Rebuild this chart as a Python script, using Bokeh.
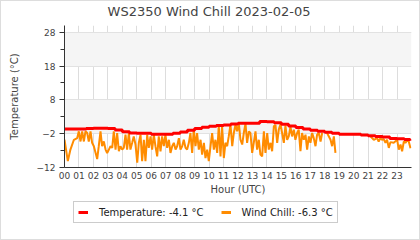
import math
from bokeh.plotting import figure
from bokeh.layouts import column
from bokeh.models import Range1d, FixedTicker, Legend, LegendItem, Label
from bokeh.embed import file_html
from bokeh.resources import INLINE

TITLE = "WS2350 Wind Chill 2023-02-05"
hour_ticks = list(range(24))
hour_labels = ["00", "01", "02", "03", "04", "05", "06", "07", "08", "09", "10", "11",
               "12", "13", "14", "15", "16", "17", "18", "19", "20", "21", "22", "23"]
y_ticks = [-12, -2, 8, 18, 28]
y_minor = [-7, 3, 13, 23]

temp_hour = [0.0, 0.5, 1.0, 1.5, 2.0, 2.5, 3.0, 3.5, 4.0, 4.5, 5.0, 5.5, 6.0, 6.5, 7.0, 7.5,
             8.0, 8.5, 9.0, 9.5, 10.0, 10.5, 11.0, 11.5, 12.0, 12.5, 13.0, 13.5, 14.0, 14.5,
             15.0, 15.5, 16.0, 16.5, 17.0, 17.5, 18.0, 18.5, 19.0, 19.5, 20.0, 20.5, 21.0,
             21.5, 22.0, 22.5, 23.0, 23.5, 23.9]
temp_val = [-0.6, -0.6, -0.6, -0.5, -0.4, -0.4, -0.5, -0.9, -1.4, -1.8, -1.9, -1.9, -2.2,
            -2.2, -2.2, -1.9, -1.5, -1.0, -0.5, -0.1, 0.2, 0.4, 0.6, 0.9, 1.1, 1.1, 1.1, 1.6,
            1.5, 1.2, 0.8, 0.3, -0.2, -0.6, -1.0, -1.3, -1.6, -1.9, -2.2, -2.2, -2.2, -2.4,
            -2.6, -2.8, -3.0, -3.4, -3.5, -3.7, -4.1]

wc_hour = [0.00, 0.23, 0.41, 0.65, 0.88, 0.99, 1.11, 1.22, 1.34, 1.45, 1.57, 1.68, 1.80, 1.91,
           2.03, 2.26, 2.37, 2.49, 2.60, 2.72, 2.84, 2.95, 3.07, 3.18, 3.30, 3.41, 3.53, 3.64,
           3.76, 3.87, 3.99, 4.10, 4.22, 4.33, 4.45, 4.56, 4.68, 4.79, 4.91, 5.03, 5.14, 5.26,
           5.37, 5.49, 5.60, 5.72, 5.83, 5.95, 6.06, 6.18, 6.29, 6.41, 6.52, 6.64, 6.75, 6.87,
           6.98, 7.10, 7.22, 7.33, 7.45, 7.56, 7.68, 7.79, 7.91, 8.02, 8.14, 8.25, 8.37, 8.48,
           8.60, 8.71, 8.83, 8.94, 9.06, 9.17, 9.29, 9.41, 9.52, 9.64, 9.75, 9.87, 9.98, 10.10,
           10.21, 10.33, 10.44, 10.56, 10.67, 10.79, 10.90, 11.02, 11.13, 11.25, 11.36, 11.48,
           11.60, 11.71, 11.83, 11.94, 12.06, 12.17, 12.29, 12.40, 12.52, 12.63, 12.75, 12.86,
           12.98, 13.09, 13.21, 13.32, 13.44, 13.55, 13.67, 13.79, 13.90, 14.02, 14.13, 14.25,
           14.36, 14.48, 14.59, 14.71, 14.82, 14.94, 15.05, 15.17, 15.28, 15.40, 15.51, 15.63,
           15.74, 15.86, 15.97, 16.09, 16.20, 16.32, 16.43, 16.55, 16.67, 16.78, 16.90, 17.01,
           17.13, 17.24, 17.36, 17.47, 17.59, 17.71, 17.82, 17.95, 18.16, 18.40, 18.51, 18.63,
           18.74, 18.90, 21.16, 21.39, 21.62, 21.73, 21.85, 21.96, 22.08, 22.20, 22.31, 22.43,
           22.54, 22.77, 23.01, 23.12, 23.24, 23.35, 23.47, 23.58, 23.70, 23.81, 23.93]
wc_val = [-3.8, -10.1, -6.7, -3.8, -3.3, -1.3, -4.3, -1.3, -4.3, -1.3, -1.8, -4.3, -1.3, -4.7,
          -5.7, -9.5, -5.7, -1.3, -5.7, -4.3, -6.7, -7.7, -6.7, -5.7, -6.2, -1.3, -6.7, -1.8,
          -7.2, -5.7, -6.7, -6.2, -2.3, -6.7, -1.8, -6.7, -4.7, -2.8, -5.2, -10.6, -4.7, -2.3,
          -10.1, -3.8, -10.1, -2.3, -6.2, -2.8, -6.7, -2.3, -5.7, -8.7, -2.8, -7.2, -2.8, -5.7,
          -2.3, -6.2, -3.8, -7.7, -5.7, -4.7, -6.7, -5.7, -3.3, -6.7, -5.7, -3.8, -6.2, -6.7,
          -4.7, -1.8, -7.7, -0.7, -5.7, -1.8, -6.7, -3.8, -8.2, -4.7, -9.2, -6.7, -10.1, -5.7,
          -1.8, -6.7, -3.8, -7.7, 0.3, -8.7, 0.2, -9.2, -4.7, -5.7, -2.8, 0.7,
          -5.7, -1.8, 0.7, -1.3, 1.0, -3.8, -5.2, -1.8, 1.0, -4.7, -1.3, -1.8,
          -7.7, -4.7, -1.3, -6.7, -3.8, -8.2, -8.7, -1.3, -7.7, -1.8, -6.7, -4.7,
          -7.2, 0.2, 0.6, -4.7, -0.8, 0.8, -1.8, -4.7, 0.4, -3.8, -2.8, 0.1,
          -2.8, -0.8, -3.8, -1.8, -0.8, -7.2, -1.8, -3.8, -2.3, -6.7, -2.8, -4.7,
          -1.8, -3.3, -5.7, -2.3, -1.8, -4.3, -1.8, None, -1.8, -3.8, -5.7, -2.8,
          -7.7, None, -2.8, -3.8, -3.3, -4.3, -3.3, -3.8, -3.6, -4.7, -3.8, -6.2,
          -4.5, -4.7, -3.8, -6.7, -5.2, -7.2, -4.3, -4.7, -4.0, -4.3, -6.3]

wc_y = [math.nan if v is None else v for v in wc_val]
legend_labels = ["Temperature: -4.1 °C", "Wind Chill: -6.3 °C"]

TXT = "#444444"
FONT = "DejaVu Sans"
RED = "#ff0000"
ORANGE = "#ff8c00"


def strip(height, y_range):
    f = figure(width=418, height=height, x_range=Range1d(0, 24), y_range=y_range,
               output_backend="svg", toolbar_location=None, x_axis_type=None,
               y_axis_type=None, min_border=0, min_border_left=0, min_border_right=0,
               min_border_top=0, min_border_bottom=0)
    f.outline_line_color = None
    f.grid.visible = False
    f.background_fill_color = "white"
    f.border_fill_color = "white"
    return f


# title strip (canvas-centred title)
t = strip(24, Range1d(0, 24))
t.add_layout(Label(x=10.0, y=14.0, text=TITLE, text_align="center", text_baseline="middle",
                   text_font=FONT, text_font_size="13px", text_color=TXT))

p = figure(width=418, height=172, x_range=Range1d(0, 24), y_range=Range1d(-12, 30),
           output_backend="svg", toolbar_location=None,
           min_border_left=63, min_border_right=8, min_border_top=0, min_border_bottom=30)
p.outline_line_color = None
p.background_fill_color = "white"
p.border_fill_color = "white"

r_w = p.line(wc_hour, wc_y, line_color=ORANGE, line_width=2)
r_t = p.step(temp_hour, temp_val, mode="after", line_color=RED, line_width=3)

xa = p.xaxis[0]
xa.ticker = FixedTicker(ticks=hour_ticks)
xa.major_label_overrides = {tk: lb for tk, lb in zip(hour_ticks, hour_labels)}
xa.major_tick_out = 0
xa.major_tick_in = 0
xa.minor_tick_out = 0
xa.minor_tick_in = 0
xa.major_label_standoff = 4
xa.major_label_text_font = FONT
xa.major_label_text_font_size = "9px"
xa.major_label_text_color = TXT
xa.axis_line_color = "#333333"
xa.axis_label = "Hour (UTC)"
xa.axis_label_text_font = FONT
xa.axis_label_text_font_size = "10px"
xa.axis_label_text_font_style = "normal"
xa.axis_label_text_color = TXT
xa.axis_label_standoff = 2

ya = p.yaxis[0]
ya.ticker = FixedTicker(ticks=y_ticks, minor_ticks=y_minor)
ya.major_tick_out = 5
ya.major_tick_in = 0
ya.minor_tick_out = 4
ya.minor_tick_in = 0
ya.major_tick_line_color = "#333333"
ya.minor_tick_line_color = "#333333"
ya.axis_line_color = "#333333"
ya.major_label_standoff = 4
ya.major_label_text_font = FONT
ya.major_label_text_font_size = "9px"
ya.major_label_text_color = TXT
ya.axis_label = "Temperature (°C)"
ya.axis_label_text_font = FONT
ya.axis_label_text_font_size = "10px"
ya.axis_label_text_font_style = "normal"
ya.axis_label_text_color = TXT
ya.axis_label_standoff = 14

p.xgrid.grid_line_color = "#dddddd"
p.ygrid.grid_line_color = "#e2e2e2"
p.ygrid.band_fill_color = "#f5f5f5"
p.ygrid.band_fill_alpha = 1.0

# legend strip below the chart (its lines sit outside the strip's visible range)
q = strip(42, Range1d(100, 101))
lt = q.line(temp_hour, temp_val, line_color=RED, line_width=3)
lw = q.line(wc_hour, wc_y, line_color=ORANGE, line_width=3)

legend = Legend(items=[LegendItem(label=legend_labels[0], renderers=[lt]),
                       LegendItem(label=legend_labels[1], renderers=[lw])],
                orientation="horizontal", location=(9, 16))
legend.label_text_font = FONT
legend.label_text_font_size = "10px"
legend.label_text_color = "#222222"
legend.glyph_width = 10
legend.glyph_height = 12
legend.label_height = 12
legend.label_standoff = 11
legend.spacing = 17
legend.padding = 4
legend.margin = 0
legend.border_line_color = "#999999"
legend.background_fill_alpha = 1.0
q.add_layout(legend, "center")

layout = column(t, p, q, spacing=0)
layout.styles = {"border": "1px solid #dddddd", "background-color": "white"}

open("out.html", "w").write(file_html(layout, INLINE))
